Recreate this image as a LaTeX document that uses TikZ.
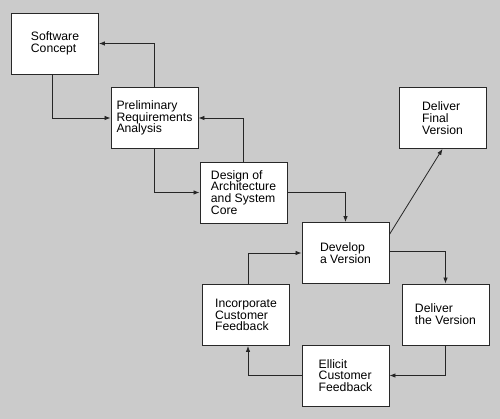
\documentclass[tikz,border=0pt]{standalone}
\usepackage{fontspec}
\setmainfont{Liberation Sans}
\usetikzlibrary{arrows.meta,calc}
\definecolor{bggray}{RGB}{203,203,203}
\definecolor{linegray}{RGB}{40,40,40}

\begin{document}
\begin{tikzpicture}[x=1pt,y=-1pt,
		stage/.style={draw=linegray,line width=0.9pt,fill=white,minimum width=87pt,minimum height=61pt,align=left,inner sep=0pt,font=\fontsize{12.2}{11.8}\selectfont},
		flow/.style={draw=black!85,line width=0.8pt,-{Latex[length=6pt,width=4.5pt]}}]
		\fill [bggray] (0,0) rectangle (500,419);
		\useasboundingbox (0,0) rectangle (500,419);
		\node [stage] (sc) at (55,43.5) {Software\\Concept};
		\node [stage] (pra) at (154.5,118) {Preliminary\\Requirements\\Analysis};
		\node [stage] (dasc) at (243.5,192.5) {Design of\\Architecture\\and System\\Core};
		\node [stage] (dav) at (345.5,253) {Develop\\a Version};
		\node [stage] (dfv) at (442.5,118) {Deliver\\Final\\Version};
		\node [stage] (dtv) at (445.5,314.5) {Deliver\\the Version};
		\node [stage] (ecf) at (345.5,375.5) {Ellicit\\Customer\\Feedback};
		\node [stage] (icf) at (246,315) {Incorporate\\Customer\\Feedback};
		% waterfall part
		\draw [flow] (pra.north) |- (sc.east);
		\draw [flow] ([xshift=-3pt]sc.south) |- (pra.west);
		\draw [flow] (dasc.north) |- (pra.east);
		\draw [flow] (pra.south) |- (dasc.west);
		\draw [flow] (dasc.east) -| (dav.north);
		% release loop
		\draw [flow] ([yshift=2pt]dav.east) -| (dtv.north);
		\draw [flow] (dtv.south) |- (ecf.east);
		\draw [flow] (ecf.west) -| ([xshift=2pt]icf.south);
		\draw [flow] ([xshift=2pt]icf.north) |- (dav.west);
		\draw [flow] ($(dav.north east)!0.2!(dav.south east)$) -- (dfv.south);
	\end{tikzpicture}
\end{document}
